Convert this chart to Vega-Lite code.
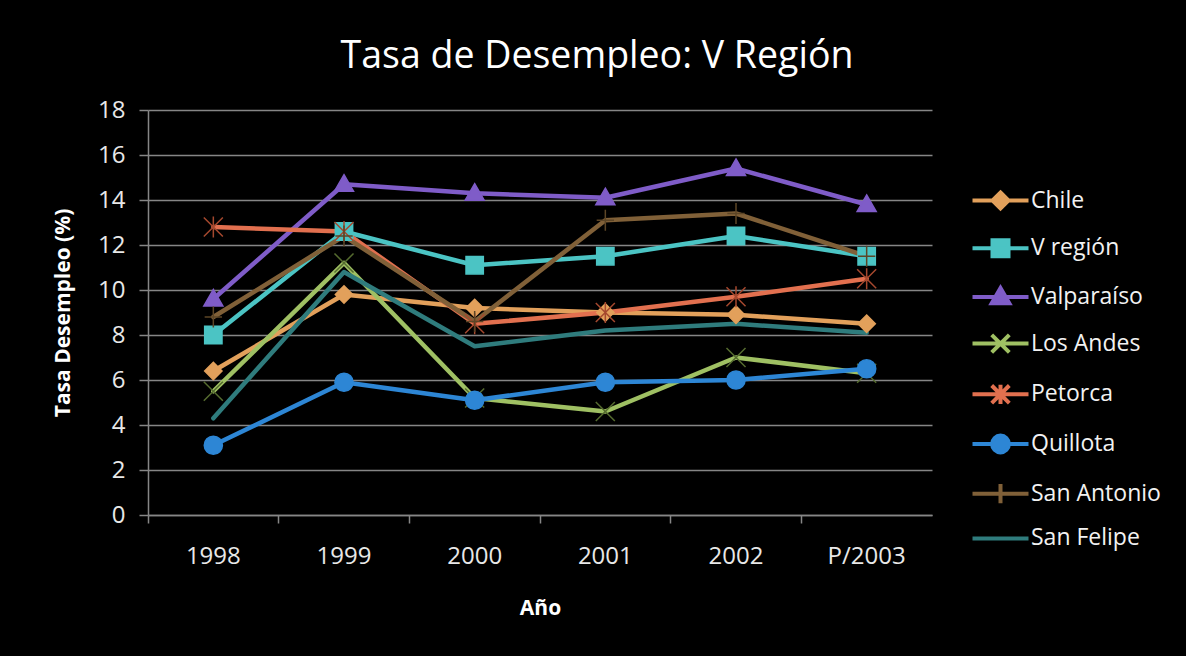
{
  "$schema": "https://vega.github.io/schema/vega-lite/v6.json",
  "autosize": {"type": "none"},
  "width": 784,
  "height": 405,
  "padding": {"left": 148, "top": 110, "right": 254, "bottom": 141},
  "background": "#000000",
  "title": {
    "text": "Tasa de Desempleo: V Región",
    "font": "Open Sans",
    "fontSize": 37.5,
    "fontWeight": "normal",
    "color": "#FFFFFF",
    "anchor": "middle",
    "offset": 23,
    "dx": 57
  },
  "data": {
    "values": [
      {"year": "1998", "series": "Chile", "value": 6.4},
      {"year": "1999", "series": "Chile", "value": 9.8},
      {"year": "2000", "series": "Chile", "value": 9.2},
      {"year": "2001", "series": "Chile", "value": 9.0},
      {"year": "2002", "series": "Chile", "value": 8.9},
      {"year": "P/2003", "series": "Chile", "value": 8.5},
      {"year": "1998", "series": "V región", "value": 8.0},
      {"year": "1999", "series": "V región", "value": 12.6},
      {"year": "2000", "series": "V región", "value": 11.1},
      {"year": "2001", "series": "V región", "value": 11.5},
      {"year": "2002", "series": "V región", "value": 12.4},
      {"year": "P/2003", "series": "V región", "value": 11.5},
      {"year": "1998", "series": "Valparaíso", "value": 9.6},
      {"year": "1999", "series": "Valparaíso", "value": 14.7},
      {"year": "2000", "series": "Valparaíso", "value": 14.3},
      {"year": "2001", "series": "Valparaíso", "value": 14.1},
      {"year": "2002", "series": "Valparaíso", "value": 15.4},
      {"year": "P/2003", "series": "Valparaíso", "value": 13.8},
      {"year": "1998", "series": "Los Andes", "value": 5.5},
      {"year": "1999", "series": "Los Andes", "value": 11.2},
      {"year": "2000", "series": "Los Andes", "value": 5.2},
      {"year": "2001", "series": "Los Andes", "value": 4.6},
      {"year": "2002", "series": "Los Andes", "value": 7.0},
      {"year": "P/2003", "series": "Los Andes", "value": 6.3},
      {"year": "1998", "series": "Petorca", "value": 12.8},
      {"year": "1999", "series": "Petorca", "value": 12.6},
      {"year": "2000", "series": "Petorca", "value": 8.5},
      {"year": "2001", "series": "Petorca", "value": 9.0},
      {"year": "2002", "series": "Petorca", "value": 9.7},
      {"year": "P/2003", "series": "Petorca", "value": 10.5},
      {"year": "1998", "series": "Quillota", "value": 3.1},
      {"year": "1999", "series": "Quillota", "value": 5.9},
      {"year": "2000", "series": "Quillota", "value": 5.1},
      {"year": "2001", "series": "Quillota", "value": 5.9},
      {"year": "2002", "series": "Quillota", "value": 6.0},
      {"year": "P/2003", "series": "Quillota", "value": 6.5},
      {"year": "1998", "series": "San Antonio", "value": 8.8},
      {"year": "1999", "series": "San Antonio", "value": 12.4},
      {"year": "2000", "series": "San Antonio", "value": 8.6},
      {"year": "2001", "series": "San Antonio", "value": 13.1},
      {"year": "2002", "series": "San Antonio", "value": 13.4},
      {"year": "P/2003", "series": "San Antonio", "value": 11.5},
      {"year": "1998", "series": "San Felipe", "value": 4.3},
      {"year": "1999", "series": "San Felipe", "value": 10.8},
      {"year": "2000", "series": "San Felipe", "value": 7.5},
      {"year": "2001", "series": "San Felipe", "value": 8.2},
      {"year": "2002", "series": "San Felipe", "value": 8.5},
      {"year": "P/2003", "series": "San Felipe", "value": 8.1}
    ]
  },
  "encoding": {
    "x": {
      "field": "year",
      "type": "ordinal",
      "sort": ["1998", "1999", "2000", "2001", "2002", "P/2003"],
      "scale": {"type": "band", "paddingInner": 0, "paddingOuter": 0},
      "axis": {
        "title": "Año",
        "labelAngle": 0,
        "bandPosition": 0,
        "tickSize": 8,
        "labelPadding": 21,
        "titlePadding": 29,
        "grid": false
      }
    },
    "y": {
      "field": "value",
      "type": "quantitative",
      "scale": {"domain": [0, 18], "nice": false},
      "axis": {
        "title": "Tasa Desempleo (%)",
        "values": [0, 2, 4, 6, 8, 10, 12, 14, 16, 18],
        "tickSize": 9,
        "labelPadding": 14,
        "titlePadding": 24,
        "grid": true
      }
    }
  },
  "layer": [
    {
      "mark": {"type": "line", "strokeWidth": 4.5, "strokeCap": "round", "strokeJoin": "round"},
      "encoding": {
        "color": {
          "field": "series",
          "type": "nominal",
          "scale": {
            "domain": ["Chile", "V región", "Valparaíso", "Los Andes", "Petorca", "Quillota", "San Antonio", "San Felipe"],
            "range": ["#E2A05B", "#4BC4C4", "#7F5CC8", "#9FC063", "#E2704F", "#2D86D5", "#806038", "#2F7C7D"]
          }
        }
      }
    },
    {
      "transform": [{"filter": "datum.series === 'Chile'"}],
      "mark": {"type": "point", "shape": "M0,-1L1,0L0,1L-1,0Z", "filled": true, "fill": "#E2A05B", "stroke": "#E2A05B", "strokeWidth": 1.5, "size": 300, "opacity": 1}
    },
    {
      "transform": [{"filter": "datum.series === 'V región'"}],
      "mark": {"type": "point", "shape": "M-1,-1H1V1H-1Z", "filled": true, "fill": "#4BC4C4", "stroke": "#4BC4C4", "strokeWidth": 1.5, "size": 300, "opacity": 1}
    },
    {
      "transform": [{"filter": "datum.series === 'Valparaíso'"}],
      "mark": {"type": "point", "shape": "M0,-1.1L1.1,0.8H-1.1Z", "filled": true, "fill": "#7F5CC8", "stroke": "#7F5CC8", "strokeWidth": 1.5, "size": 300, "opacity": 1}
    },
    {
      "transform": [{"filter": "datum.series === 'Los Andes'"}],
      "mark": {"type": "point", "shape": "M-1.1,-1.1L1.1,1.1M1.1,-1.1L-1.1,1.1", "filled": false, "stroke": "#556B2F", "strokeWidth": 1.5, "size": 300, "opacity": 1}
    },
    {
      "transform": [{"filter": "datum.series === 'Petorca'"}],
      "mark": {"type": "point", "shape": "M-1.1,-1.1L1.1,1.1M1.1,-1.1L-1.1,1.1M0,-1.2V1.2", "filled": false, "stroke": "#A5482E", "strokeWidth": 1.5, "size": 300, "opacity": 1}
    },
    {
      "transform": [{"filter": "datum.series === 'Quillota'"}],
      "mark": {"type": "point", "shape": "circle", "filled": true, "fill": "#2D86D5", "stroke": "#2D86D5", "strokeWidth": 1.5, "size": 330, "opacity": 1}
    },
    {
      "transform": [{"filter": "datum.series === 'San Antonio'"}],
      "mark": {"type": "point", "shape": "M0,-1.2V1.2M-1,0H1", "filled": false, "stroke": "#5C4526", "strokeWidth": 1.5, "size": 300, "opacity": 1}
    },
    {
      "mark": {"type": "point", "filled": false, "opacity": 0, "size": 256},
      "encoding": {
        "color": {
          "field": "series",
          "type": "nominal",
          "legend": {
            "title": null,
            "orient": "none",
            "legendX": 841,
            "legendY": 79,
            "symbolSize": 256,
            "symbolStrokeWidth": 4,
            "symbolOpacity": 1,
            "labelOffset": 19,
            "rowPadding": 14.7,
            "labelFont": "Open Sans",
            "labelFontSize": 23,
            "labelColor": "#F2F2F2",
            "labelBaseline": "middle"
          }
        },
        "fill": {
          "field": "series",
          "type": "nominal",
          "scale": {
            "domain": ["Chile", "V región", "Valparaíso", "Los Andes", "Petorca", "Quillota", "San Antonio", "San Felipe"],
            "range": ["#E2A05B", "#4BC4C4", "#7F5CC8", "#9FC063", "#E2704F", "#2D86D5", "#806038", "#2F7C7D"]
          }
        },
        "shape": {
          "field": "series",
          "type": "nominal",
          "scale": {
            "domain": ["Chile", "V región", "Valparaíso", "Los Andes", "Petorca", "Quillota", "San Antonio", "San Felipe"],
            "range": [
              "M-3.5,0H3.5M0,-1L1,0L0,1L-1,0Z",
              "M-3.5,0H3.5M-1,-1H1V1H-1Z",
              "M-3.5,0H3.5M0,-1.1L1.1,0.8H-1.1Z",
              "M-3.5,0H3.5M-1.1,-1.1L1.1,1.1M1.1,-1.1L-1.1,1.1",
              "M-3.5,0H3.5M-1.1,-1.1L1.1,1.1M1.1,-1.1L-1.1,1.1M0,-1.2V1.2",
              "M-3.5,0H3.5M1.05,0A1.05,1.05,0,1,1,-1.05,0A1.05,1.05,0,1,1,1.05,0Z",
              "M-3.5,0H3.5M0,-1.2V1.2",
              "M-3.5,0H3.5"
            ]
          }
        }
      }
    }
  ],
  "config": {
    "view": {"stroke": null},
    "legend": {
      "orient": "none",
      "legendX": 841,
      "legendY": 79,
      "symbolSize": 256,
      "symbolStrokeWidth": 4,
      "symbolOpacity": 1,
      "labelOffset": 19,
      "rowPadding": 14.7,
      "labelFont": "Open Sans",
      "labelFontSize": 23,
      "labelColor": "#F2F2F2",
      "labelBaseline": "middle"
    },
    "axis": {
      "domainColor": "#868686",
      "gridColor": "#868686",
      "tickColor": "#868686",
      "domainWidth": 1.5,
      "gridWidth": 1.5,
      "tickWidth": 1.5,
      "labelColor": "#E8E8E8",
      "labelFont": "Open Sans",
      "labelFontSize": 24,
      "titleColor": "#FFFFFF",
      "titleFont": "Open Sans",
      "titleFontSize": 21,
      "titleFontWeight": "bold"
    }
  }
}
